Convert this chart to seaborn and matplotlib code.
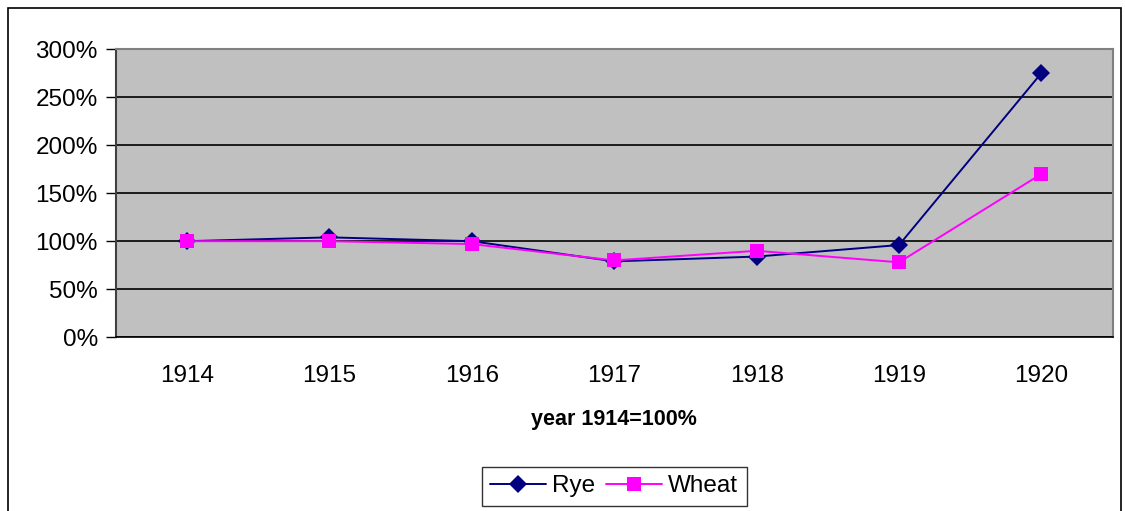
import numpy as np
import pandas as pd
import matplotlib
matplotlib.use("Agg")
import matplotlib.pyplot as plt
import seaborn as sns
from matplotlib.patches import Rectangle
from matplotlib.ticker import FixedLocator, FuncFormatter

years = ["1914", "1915", "1916", "1917", "1918", "1919", "1920"]
rye = [100, 104, 100, 79, 84, 96, 275]
wheat = [100, 100, 97, 80, 90, 78, 170]

df = pd.DataFrame({
    "pos": list(range(len(years))) * 2,
    "value": rye + wheat,
    "series": ["Rye"] * len(years) + ["Wheat"] * len(years),
})

sns.set_style("white")
plt.rcParams["font.family"] = ["Liberation Sans", "DejaVu Sans"]
plt.rcParams["text.color"] = "black"
plt.rcParams["axes.labelcolor"] = "black"
plt.rcParams["xtick.color"] = "black"
plt.rcParams["ytick.color"] = "black"

fig = plt.figure(figsize=(11.25, 5.11), dpi=100)
ax = fig.add_axes([0.103, 0.340, 0.886, 0.564])
ax.set_facecolor("#c0c0c0")

sns.lineplot(data=df, x="pos", y="value", hue="series", style="series",
             palette={"Rye": "#000080", "Wheat": "#ff00ff"},
             markers={"Rye": "D", "Wheat": "s"}, dashes=False,
             markersize=9.5, markeredgewidth=0, linewidth=1.4, ax=ax)

ax.set_xlim(-0.5, len(years) - 0.5)
ax.set_ylim(0, 300)
ax.set_yticks(np.arange(0, 301, 50))
ax.yaxis.set_major_formatter(FuncFormatter(lambda v, p: f"{int(v)}%"))
ax.grid(axis="y", color="black", linewidth=1.2)
ax.set_axisbelow(True)

ax.set_xticks(range(len(years)))
ax.set_xticklabels(years)
ax.xaxis.set_minor_locator(FixedLocator(np.arange(-0.5, len(years), 1.0)))
ax.tick_params(axis="x", which="major", length=0, pad=20, labelsize=17.5)
ax.tick_params(axis="x", which="minor", length=7, width=1, color="black",
               direction="out")
ax.tick_params(axis="y", which="major", length=7, width=1, color="black",
               direction="out", labelsize=17.5, pad=6, left=True)

for side in ["top", "right"]:
    ax.spines[side].set_color("#808080")
    ax.spines[side].set_linewidth(1.5)
ax.spines["left"].set_color("#404040")
ax.spines["left"].set_linewidth(1.5)
ax.spines["bottom"].set_color("black")
ax.spines["bottom"].set_linewidth(1.2)

ax.set_xlabel("year 1914=100%", fontsize=15.5, fontweight="bold", labelpad=16)
ax.set_ylabel("")

handles, labels = ax.get_legend_handles_labels()
leg = ax.legend(handles, labels, loc="center", bbox_to_anchor=(0.5, -0.517),
                ncol=2, fontsize=17.5, frameon=True, fancybox=False,
                edgecolor="black", handlelength=2.3, columnspacing=0.45,
                handletextpad=0.25, borderpad=0.35, borderaxespad=0)
leg.get_frame().set_linewidth(1.0)

fig.patches.append(Rectangle((0.007, -0.1), 0.989, 1.084, transform=fig.transFigure,
                             fill=False, edgecolor="black", linewidth=1.2))

fig.savefig("out.png", dpi=100)
